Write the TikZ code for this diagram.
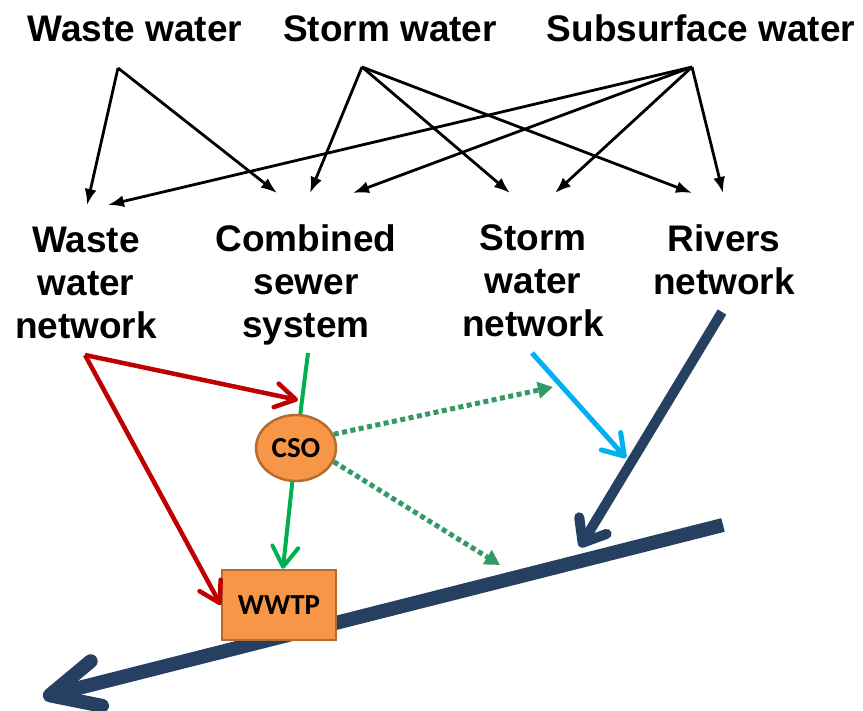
\documentclass[tikz,border=0pt]{standalone}
\usepackage{fontspec}
\setmainfont{Liberation Sans}
\newfontfamily\calib{Carlito}
\usetikzlibrary{arrows.meta,shapes.geometric}
\definecolor{navy}{RGB}{37,64,97}
\definecolor{redl}{RGB}{192,0,0}
\definecolor{greenl}{RGB}{0,176,80}
\definecolor{dotgreen}{RGB}{51,153,102}
\definecolor{bluel}{RGB}{0,176,240}
\definecolor{orangefill}{RGB}{247,150,70}
\definecolor{orangeedge}{RGB}{182,108,49}
\tikzset{
  lbl/.style={font=\fontsize{37}{43}\selectfont\bfseries, inner sep=0pt, align=center},
  feed/.style={draw=black, line width=2.8pt, -{Latex[length=16pt,width=12pt]}},
  redflow/.style={draw=redl, line width=4.5pt, -{Straight Barb[length=20pt,width=24pt,round]}},
  greenflow/.style={draw=greenl, line width=4pt},
  greenarrow/.style={greenflow, -{Straight Barb[length=20pt,width=26pt,round]}},
  blueflow/.style={draw=bluel, line width=5pt, -{Straight Barb[length=20pt,width=26pt,round]}},
  dotflow/.style={draw=dotgreen, line width=5pt, dash pattern=on 5pt off 3.5pt, -{Triangle[length=15pt,width=16pt]}},
  tribflow/.style={draw=navy, line width=10pt, -{Straight Barb[length=20pt,width=32pt,round]}},
  mainriver/.style={draw=navy, line width=14pt, -{Straight Barb[length=48pt,width=46pt,round]}},
  plant/.style={draw=orangeedge, fill=orangefill, line width=2.5pt, inner sep=0pt,
    font=\calib\bfseries\fontsize{29}{34}\selectfont}
}
\begin{document}
\begin{tikzpicture}[x=1pt,y=-1pt]
\fill[white] (0,0) rectangle (863,711);
\useasboundingbox (0,0) rectangle (863,711);

% labels
\node[lbl,anchor=base] (ww) at (135,42) {Waste water};
\node[lbl,anchor=base] (sw) at (390,42) {Storm water};
\node[lbl,anchor=base] (ss) at (701,42) {Subsurface water};
\node[lbl,anchor=north] (wwn) at (86,227) {Waste\\water\\network};
\node[lbl,anchor=north] (css) at (306,224) {Combined\\sewer\\system};
\node[lbl,anchor=north] (swn) at (533,224) {Storm\\water\\network};
\node[lbl,anchor=north] (rn) at (724,224) {Rivers\\network};

% source points
\coordinate (wwo) at (118,68);
\coordinate (swo) at (362,67);
\coordinate (sso) at (692,67);
% targets
\coordinate (wwn-a) at (87,205);
\coordinate (wwn-b) at (108,205);
\coordinate (css-a) at (277,193);
\coordinate (css-b) at (310,193);
\coordinate (css-c) at (353,193);
\coordinate (swn-a) at (510,193);
\coordinate (swn-b) at (555,193);
\coordinate (rn-a) at (692,193);
\coordinate (rn-b) at (723,193);

\draw[feed] (wwo) -- (wwn-a);
\draw[feed] (wwo) -- (css-a);
\draw[feed] (swo) -- (css-b);
\draw[feed] (swo) -- (swn-a);
\draw[feed] (swo) -- (rn-a);
\draw[feed] (sso) -- (wwn-b);
\draw[feed] (sso) -- (css-c);
\draw[feed] (sso) -- (swn-b);
\draw[feed] (sso) -- (rn-b);

% rivers
\coordinate (rin) at (723,525);
\coordinate (rout) at (43,697);
\coordinate (rtop) at (722,312);
\coordinate (rjoin) at (580,547);
\draw[mainriver] (rin) -- (rout);
\draw[tribflow] (rtop) -- (rjoin);

% plants
\node[plant, ellipse, minimum width=80pt, minimum height=66pt] (cso) at (296,448) {CSO};
\node[plant, rectangle, minimum width=114pt, minimum height=70pt] (wwtp) at (279,605) {WWTP};

% flows
\coordinate (cssout) at (308,353);
\coordinate (wwnout) at (85,355);
\coordinate (greenin) at (298,400);
\coordinate (swnout) at (532,353);
\coordinate (swnin) at (626,458);
\coordinate (dot1) at (553,387);
\coordinate (dot2) at (500,565);

\draw[greenflow] (cssout) -- (cso);
\draw[greenarrow] (cso) -- (wwtp);
\draw[redflow] (wwnout) -- (greenin);
\draw[redflow] (wwnout) -- (wwtp.west);
\draw[dotflow] (cso.20) -- (dot1);
\draw[dotflow] (cso.-20) -- (dot2);
\draw[blueflow] (swnout) -- (swnin);
\end{tikzpicture}
\end{document}
